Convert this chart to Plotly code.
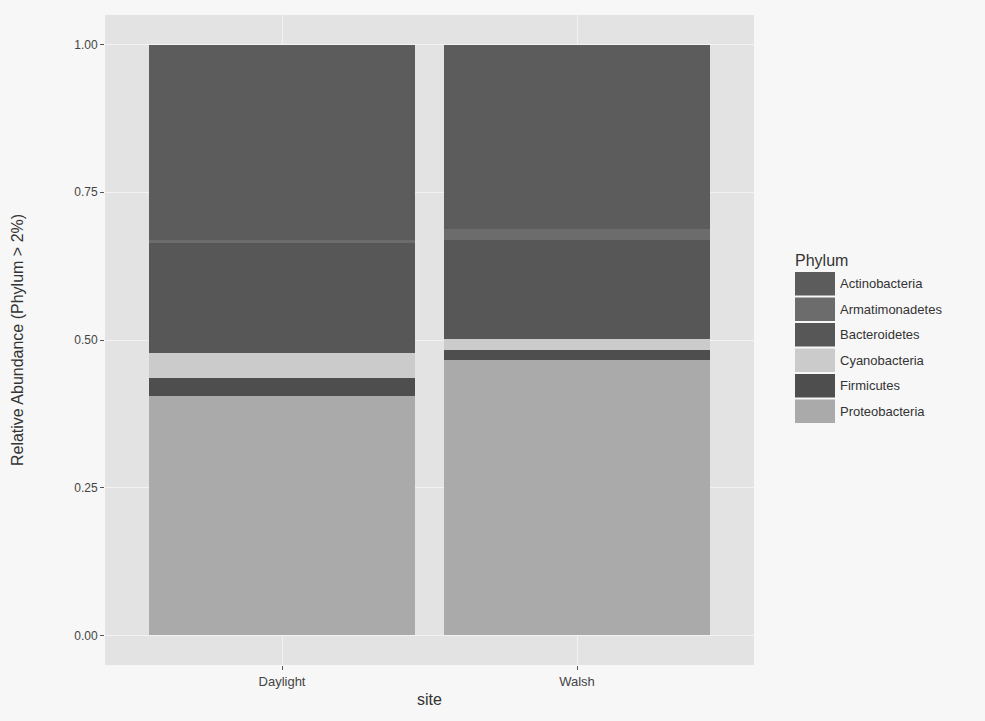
import plotly.graph_objects as go

sites = ["Daylight", "Walsh"]
phyla = ["Actinobacteria", "Armatimonadetes", "Bacteroidetes", "Cyanobacteria", "Firmicutes", "Proteobacteria"]
actinobacteria = [0.330, 0.312]
armatimonadetes = [0.006, 0.018]
bacteroidetes = [0.186, 0.168]
cyanobacteria = [0.042, 0.019]
firmicutes = [0.030, 0.017]
proteobacteria = [0.406, 0.466]
values = {
    "Actinobacteria": actinobacteria,
    "Armatimonadetes": armatimonadetes,
    "Bacteroidetes": bacteroidetes,
    "Cyanobacteria": cyanobacteria,
    "Firmicutes": firmicutes,
    "Proteobacteria": proteobacteria,
}
colors = {
    "Actinobacteria": "#5c5c5c",
    "Armatimonadetes": "#6c6c6c",
    "Bacteroidetes": "#575757",
    "Cyanobacteria": "#cbcbcb",
    "Firmicutes": "#4e4e4e",
    "Proteobacteria": "#aaaaaa",
}

fig = go.Figure()
# stack bottom-up: Proteobacteria at bottom, Actinobacteria at top
for p in reversed(phyla):
    fig.add_trace(go.Bar(
        x=sites, y=values[p], name=p,
        marker=dict(color=colors[p], line=dict(width=0)),
        showlegend=False,
    ))

font_family = "Liberation Sans, Arial, sans-serif"

# custom ggplot-style legend (paper coords relative to plot area: 649 x 650 px)
pw, ph = 649.0, 650.0
lx = (795 - 105) / pw
shapes = []
annotations = [dict(
    text="Phylum", xref="paper", yref="paper", x=lx - 2 / pw, y=(665 - 260) / ph,
    xanchor="left", yanchor="middle", showarrow=False,
    font=dict(size=16, color="#333333", family=font_family),
)]
key_h = 25.5 / ph
top0 = (665 - 272) / ph
for i, p in enumerate(phyla):
    y_top = top0 - i * key_h
    shapes.append(dict(
        type="rect", xref="paper", yref="paper",
        x0=lx, x1=lx + 40 / pw, y0=y_top - key_h + 2 / ph, y1=y_top,
        fillcolor=colors[p], line=dict(width=0),
    ))
    annotations.append(dict(
        text=p, xref="paper", yref="paper", x=lx + 43 / pw,
        y=y_top - key_h / 2 + 1 / ph, xanchor="left", yanchor="middle", showarrow=False,
        font=dict(size=13, color="#333333", family=font_family),
    ))

fig.update_layout(
    width=985, height=721,
    margin=dict(l=105, r=231, t=15, b=56),
    paper_bgcolor="#f7f7f7",
    plot_bgcolor="#e3e3e3",
    barmode="stack",
    bargap=0.1,
    font=dict(family=font_family, color="#444444"),
    shapes=shapes,
    annotations=annotations,
    showlegend=False,
)
fig.update_xaxes(
    type="category", range=[-0.6, 1.6],
    showgrid=True, gridcolor="#f2f2f2", gridwidth=1,
    ticks="outside", ticklen=4, tickcolor="#555555",
    tickfont=dict(size=13, color="#444444"),
    title=dict(text="site", font=dict(size=16, color="#333333"), standoff=6),
    zeroline=False,
)
fig.update_yaxes(
    range=[-0.05, 1.05],
    tickvals=[0, 0.25, 0.5, 0.75, 1.0],
    ticktext=["0.00", "0.25", "0.50", "0.75", "1.00"],
    showgrid=True, gridcolor="#f2f2f2", gridwidth=1,
    ticks="outside", ticklen=4, tickcolor="#555555",
    tickfont=dict(size=12, color="#444444"),
    title=dict(text="Relative Abundance (Phylum > 2%)", font=dict(size=16, color="#333333"), standoff=46),
    zeroline=False,
)

fig.write_html("out.html")
